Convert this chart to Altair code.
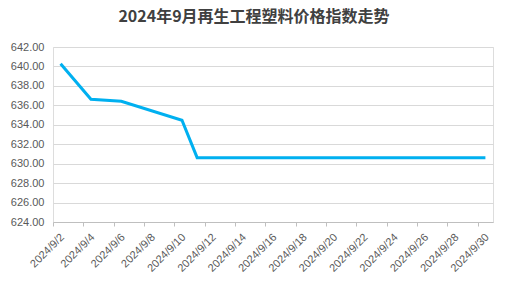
import altair as alt
import pandas as pd

all_dates = [f"2024/9/{d}" for d in range(2, 31)]
label_dates = [f"2024/9/{d}" for d in range(2, 31, 2)]

dates = ["2024/9/2", "2024/9/4", "2024/9/6", "2024/9/10", "2024/9/11",
         "2024/9/12", "2024/9/13", "2024/9/14", "2024/9/18", "2024/9/19",
         "2024/9/20", "2024/9/23", "2024/9/24", "2024/9/25", "2024/9/26",
         "2024/9/27", "2024/9/29", "2024/9/30"]
values = [640.28, 636.62, 636.42, 634.47, 630.62,
          630.62, 630.62, 630.62, 630.62, 630.62,
          630.62, 630.62, 630.62, 630.62, 630.62,
          630.62, 630.62, 630.62]

df = pd.DataFrame({"date": dates, "value": values})

W, H = 440, 175
step = W / len(all_dates)

chart = alt.Chart(df).mark_line(color="#00B0F0", strokeWidth=3, strokeCap="butt", strokeJoin="miter").encode(
    x=alt.X("date:O", sort=all_dates,
            scale=alt.Scale(type="point", domain=all_dates, padding=0.5),
            axis=alt.Axis(values=label_dates, title=None, labelAngle=-45,
                          labelFontSize=11, labelColor="#595959", labelFont="Liberation Sans",
                          tickOffset=-step / 2, tickSize=4, tickColor="#BFBFBF",
                          domainColor="#BFBFBF", grid=False, labelPadding=5, labelOffset=5)),
    y=alt.Y("value:Q", scale=alt.Scale(domain=[624, 642], nice=False, zero=False),
            axis=alt.Axis(values=list(range(624, 643, 2)), format=".2f", title=None,
                          ticks=False, domain=False, labelPadding=9,
                          labelFontSize=11, labelColor="#595959", labelFont="Liberation Sans",
                          gridColor="#D9D9D9", gridWidth=1)),
).properties(
    width=W, height=H,
    title=alt.TitleParams("2024年9月再生工程塑料价格指数走势", fontSize=16, fontWeight="bold",
                          color="#404040", font="Noto Sans CJK SC", anchor="middle",
                          dx=-19, offset=16),
    autosize=alt.AutoSizeParams(type="none"),
    padding={"left": 53, "top": 47, "right": 15, "bottom": 67},
).configure_view(stroke=None).configure(background="white")

chart.save("out.html", embed_options={"renderer": "svg", "actions": False})
